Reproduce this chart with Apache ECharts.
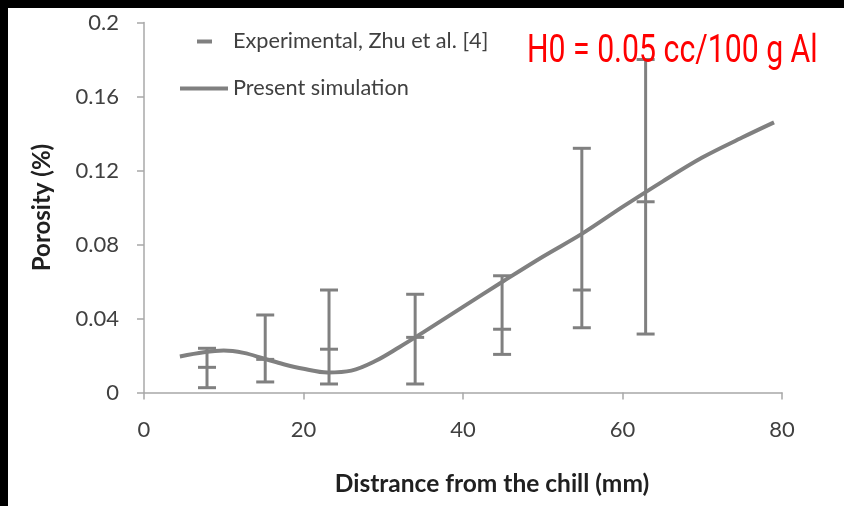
<!DOCTYPE html>
<html>
<head>
<meta charset="utf-8">
<script src="https://cdn.jsdelivr.net/npm/echarts@6/dist/echarts.min.js"></script>
<style>
  html, body { margin: 0; padding: 0; background: #000; }
  #chart { position: absolute; left: 8px; top: 8px; width: 836px; height: 498px; background: #fff; }
</style>
</head>
<body>
<div id="chart"></div>
<script>
// 实验数据 (Zhu et al.)
var expX    = [7.9, 15.2, 23.2, 34.0, 44.9, 54.9, 62.9];
var expMean = [0.0136, 0.0179, 0.0234, 0.0298, 0.0342, 0.0554, 0.1031];
var expLow  = [0.0026, 0.0057, 0.0046, 0.0046, 0.0206, 0.0350, 0.0316];
var expHigh = [0.0239, 0.0419, 0.0554, 0.0531, 0.0631, 0.1320, 0.1800];

// 模拟曲线
var simX = [4.5, 7.5, 10, 12.5, 15, 17.5, 20, 23, 26, 29, 32, 35, 40, 45, 50, 55, 60, 65, 70, 75, 79];
var simY = [0.0195, 0.0218, 0.0227, 0.0214, 0.0184, 0.0153, 0.0128, 0.0108, 0.0118, 0.0170, 0.0245, 0.0325, 0.0463, 0.0600, 0.0734, 0.0860, 0.1003, 0.1140, 0.1270, 0.1378, 0.1460];

var yTicks = [0, 0.04, 0.08, 0.12, 0.16, 0.2];

var expData = expX.map(function (x, i) { return [x, expMean[i], expLow[i], expHigh[i]]; });
var simData = simX.map(function (x, i) { return [x, simY[i]]; });

var gray = '#808080';
var labelColor = '#404040';

var dom = document.getElementById('chart');
var myChart = echarts.init(dom);

var option = {
    animation: false,
    backgroundColor: '#fff',
    grid: {
        left: 136,
        right: 62,
        top: 14.5,
        bottom: 113.5
    },
    legend: {
        orient: 'vertical',
        left: 172,
        top: 22.5,
        padding: 0,
        itemWidth: 48,
        itemHeight: 4,
        itemGap: 25,
        textStyle: { fontFamily: 'Lato', fontSize: 21.7, color: labelColor, lineHeight: 22 },
        data: [
            { name: 'Experimental, Zhu et al. [4]', icon: 'path://M0,0M48,4M17,0h15v4h-15z', itemStyle: { color: gray } },
            { name: 'Present simulation', icon: 'rect', itemStyle: { color: gray } }
        ]
    },
    xAxis: {
        type: 'value',
        min: 0,
        max: 80,
        interval: 20,
        name: 'Distrance from the chill (mm)',
        nameLocation: 'middle',
        nameGap: 79,
        nameTextStyle: { fontFamily: 'Lato', fontWeight: 'bold', fontSize: 24.5, color: '#202020', padding: [0, 0, 0, 58] },
        axisLine: { lineStyle: { color: '#a8a8a8', width: 1.5 } },
        axisTick: { show: true, length: 7, lineStyle: { color: '#a8a8a8', width: 1.5 } },
        axisLabel: { margin: 26, fontFamily: 'Lato', fontSize: 22, color: labelColor },
        splitLine: { show: false }
    },
    yAxis: {
        type: 'value',
        min: 0,
        max: 0.2,
        interval: 0.04,
        name: 'Porosity (%)',
        nameLocation: 'middle',
        nameGap: 90,
        nameTextStyle: { fontFamily: 'Lato', fontWeight: 'bold', fontSize: 24, color: '#202020' },
        axisLine: { show: true, lineStyle: { color: '#a8a8a8', width: 1.5 } },
        axisTick: { show: true, length: 7, lineStyle: { color: '#a8a8a8', width: 1.5 } },
        axisLabel: {
            margin: 25, fontFamily: 'Lato', fontSize: 22, color: labelColor,
            formatter: function (v) {
                for (var i = 0; i < yTicks.length; i++) {
                    if (Math.abs(v - yTicks[i]) < 1e-9) return String(yTicks[i]);
                }
                return '';
            }
        },
        splitLine: { show: false }
    },
    series: [
        {
            name: 'Present simulation',
            type: 'line',
            smooth: 0.35,
            showSymbol: false,
            data: simData,
            lineStyle: { color: gray, width: 4 },
            itemStyle: { color: gray },
            z: 2
        },
        {
            name: 'Experimental, Zhu et al. [4]',
            type: 'custom',
            itemStyle: { color: gray },
            data: expData,
            z: 3,
            renderItem: function (params, api) {
                var x = api.value(0);
                var pMean = api.coord([x, api.value(1)]);
                var pLow = api.coord([x, api.value(2)]);
                var pHigh = api.coord([x, api.value(3)]);
                var hw = 9;
                var st = { stroke: gray, lineWidth: 3 };
                return {
                    type: 'group',
                    children: [
                        { type: 'line', shape: { x1: pLow[0], y1: pLow[1], x2: pHigh[0], y2: pHigh[1] }, style: st },
                        { type: 'line', shape: { x1: pLow[0] - hw, y1: pLow[1], x2: pLow[0] + hw, y2: pLow[1] }, style: st },
                        { type: 'line', shape: { x1: pHigh[0] - hw, y1: pHigh[1], x2: pHigh[0] + hw, y2: pHigh[1] }, style: st },
                        { type: 'line', shape: { x1: pMean[0] - hw, y1: pMean[1], x2: pMean[0] + hw, y2: pMean[1] }, style: st }
                    ]
                };
            }
        }
    ],
    graphic: [
        {
            type: 'text',
            left: 519,
            top: 25,
            scaleX: 0.775,
            style: {
                text: 'H0 = 0.05 cc/100 g Al',
                fontFamily: 'Roboto',
                fontSize: 39,
                fill: '#ff0000'
            },
            z: 10
        }
    ]
};

myChart.setOption(option);
</script>
</body>
</html>
